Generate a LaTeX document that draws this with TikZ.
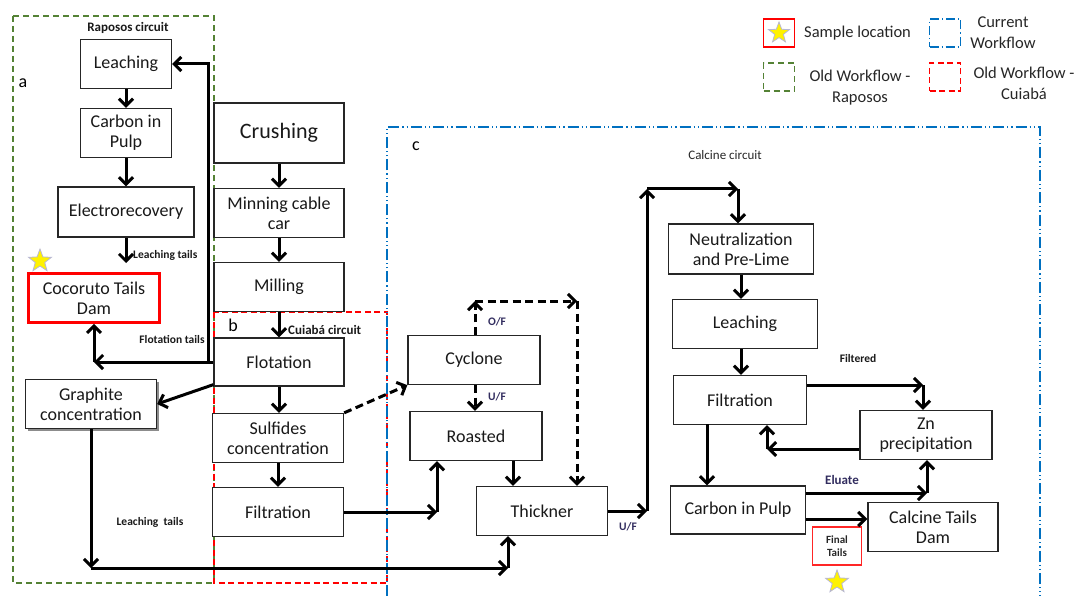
\documentclass[tikz,border=0pt]{standalone}
\usepackage{fontspec}
\setmainfont{Carlito}
\usetikzlibrary{arrows.meta,shapes.geometric,shadows,calc}
\definecolor{oldgreen}{RGB}{84,130,53}
\definecolor{curblue}{RGB}{0,112,192}
\definecolor{flowlbl}{RGB}{50,45,95}
\tikzset{
  box/.style={draw=black!85, line width=1.3pt, fill=white, align=center, inner sep=1pt, text=black!90,
    font=\fontsize{18}{20}\selectfont},
  arr/.style={line width=3pt, -{Straight Barb[length=7pt,width=14pt]}},
  darr/.style={line width=3pt, dash pattern=on 8pt off 4.5pt, -{Straight Barb[length=7pt,width=14pt]}},
  lbl/.style={font=\bfseries\fontsize{11.5}{13}\selectfont, inner sep=0pt, text=black!90},
  sttl/.style={font=\bfseries\fontsize{13}{15}\selectfont, inner sep=0pt, text=black!90},
  leg/.style={font=\fontsize{16.5}{21}\selectfont, align=center, inner sep=0pt, text=black!85},
  greenbox/.style={draw=oldgreen, line width=1.4pt, dash pattern=on 6pt off 4pt},
  redbox/.style={draw=red, line width=1.3pt, dash pattern=on 6pt off 3.5pt},
  bluebox/.style={draw=curblue, line width=1.4pt, dash pattern=on 11pt off 3pt on 1.2pt off 3pt on 1.2pt off 3pt},
  starmark/.style={star, star points=5, star point ratio=2.4, minimum size=24pt, inner sep=0pt,
    fill=yellow, draw=blue!25!gray!45, line width=0.8pt},
}
\begin{document}
\begin{tikzpicture}[x=1pt,y=-1pt]
\useasboundingbox (0,0) rectangle (1078,596);
% ---- circuit frames
\draw[greenbox] (13,16) rectangle (214,583);
\draw[redbox] (214,312) rectangle (387,583);
\draw[bluebox] (387,596) -- (387,127) -- (1040,127) -- (1040,596);
\node[font=\fontsize{18}{20}\selectfont, inner sep=0pt] (la) at (23,83) {a};
\node[font=\fontsize{18}{20}\selectfont, inner sep=0pt] (lb) at (233,325) {b};
\node[font=\fontsize{18}{20}\selectfont, inner sep=0pt] (lc) at (416,146) {c};
\node[sttl] (tra) at (128,28) {Raposos circuit};
\node[sttl, anchor=west] (trb) at (288,330) {Cuiabá circuit};
\node[font=\fontsize{13}{15}\selectfont, inner sep=0pt, text=black!85] (trc) at (725,155) {Calcine circuit};
% ---- Raposos circuit
\node[box, minimum width=91pt, minimum height=49pt] (leachA) at (126,64) {Leaching};
\node[box, minimum width=91pt, minimum height=49pt] (cipA) at (126,133) {Carbon in\\Pulp};
\node[box, minimum width=136pt, minimum height=50pt] (elec) at (126,212) {Electrorecovery};
\node[box, draw=red, line width=2.6pt, minimum width=131pt, minimum height=49pt] (coco) at (94,298) {Cocoruto Tails\\Dam};
\node[starmark] (starA) at (40,261) {};
\node[box, minimum width=131pt, minimum height=49pt, drop shadow={shadow xshift=2.5pt, shadow yshift=-2.5pt, fill=black!45, opacity=1}] (graph) at (91,404) {Graphite\\concentration};
% ---- main line
\node[box, minimum width=130pt, minimum height=60pt, font=\fontsize{22}{24}\selectfont] (crush) at (279,133) {Crushing};
\node[box, minimum width=130pt, minimum height=49pt] (cable) at (279,213) {Minning cable\\car};
\node[box, minimum width=130pt, minimum height=49pt] (mill) at (279,287) {Milling};
\node[box, minimum width=130pt, minimum height=48pt] (flot) at (279,362) {Flotation};
\node[box, minimum width=131pt, minimum height=49pt] (sulf) at (278,438) {Sulfides\\concentration};
\node[box, minimum width=131pt, minimum height=49pt] (filtB) at (278,512) {Filtration};
% ---- calcine circuit
\node[box, minimum width=132pt, minimum height=49pt] (cyc) at (474,360) {Cyclone};
\node[box, minimum width=132pt, minimum height=49pt] (roast) at (476,436) {Roasted};
\node[box, minimum width=131pt, minimum height=49pt] (thick) at (542,511) {Thickner};
\node[box, minimum width=145pt, minimum height=50pt] (neut) at (741,249) {Neutralization\\and Pre-Lime};
\node[box, minimum width=145pt, minimum height=49pt] (leachC) at (745,324) {Leaching};
\node[box, minimum width=133pt, minimum height=49pt] (filtC) at (740,400) {Filtration};
\node[box, minimum width=132pt, minimum height=49pt] (zn) at (926,435) {Zn\\precipitation};
\node[box, minimum width=135pt, minimum height=48pt] (cipC) at (738,510) {Carbon in Pulp};
\node[box, minimum width=130pt, minimum height=49pt] (calc) at (933,527) {Calcine Tails\\Dam};
\node[draw=red!85, line width=1.1pt, minimum width=49pt, minimum height=38pt, align=center, inner sep=0pt,
  font=\bfseries\fontsize{11}{13}\selectfont, text=black!85] (final) at (837,546) {Final\\Tails};
\node[starmark] (starC) at (837,582) {};
% ---- Raposos arrows
\draw[arr] (leachA.south) -- (cipA.north);
\draw[arr] (cipA.south) -- (cipA.south |- elec.north);
\coordinate (lt) at (126,263);
\draw[arr] (elec.south) -- (lt);
\node[lbl, anchor=west] (ltl) at (133,255) {Leaching tails};
\coordinate (ft) at (coco.south |- flot.west);
\coordinate (vt) at (208,362);
\draw[arr] (flot.west) -- (ft);
\draw[arr] (ft) -- (coco.south);
\draw[arr] (vt) |- (leachA.east);
\node[lbl] (ftl) at (172,339) {Flotation tails};
\draw[arr] ([yshift=2pt]flot.south west) -- (graph.east);
% ---- main line arrows
\draw[arr] (crush.south) -- (cable.north);
\draw[arr] (cable.south) -- (mill.north);
\draw[arr] (mill.south) -- (flot.north);
\draw[arr] (flot.south) -- (flot.south |- sulf.north);
\draw[arr] (sulf.south) -- (filtB.north);
% ---- graphite to thickner
\coordinate (g1) at (graph.south |- 0,568);
\coordinate (g2) at (508,568);
\draw[arr] (graph.south) -- (g1);
\draw[arr] (g1) -- (g2);
\draw[arr] (g2) -- (g2 |- thick.south);
\node[lbl] (ltl2) at (150,522) {Leaching\ \ tails};
% ---- filtration b to roasted
\coordinate (f1) at (437,512);
\draw[arr] (filtB.east) -- (f1);
\draw[arr] (f1) -- (f1 |- roast.south);
% ---- sulfides to cyclone (dashed)
\draw[darr] (sulf.north east) -- (cyc.south west);
\coordinate (o1) at (475,301);
\coordinate (o2) at (577,301);
\draw[darr] (o1 |- cyc.north) -- (o1);
\draw[darr] (o1) -- (o2);
\draw[darr] (o2) -- (o2 |- thick.north);
\node[lbl, text=flowlbl] (ofl) at (497,322) {O/F};
\draw[darr] (o1 |- cyc.south) -- (o1 |- roast.north);
\node[lbl, text=flowlbl] (ufl) at (497,397) {U/F};
\coordinate (r1) at (513,460);
\draw[arr] (r1 |- roast.south) -- (r1 |- thick.north);
% ---- thickner to neutralization
\coordinate (t1) at (647,511);
\coordinate (t2) at (647,189);
\coordinate (t3) at (738,189);
\draw[arr] (thick.east) -- (t1);
\draw[arr] (t1) -- (t2);
\draw[arr] (t2) -- (t3);
\draw[arr] (t3) -- (t3 |- neut.north);
\node[lbl, text=flowlbl] (ufl2) at (628,527) {U/F};
% ---- calcine circuit arrows
\draw[arr] (neut.south) -- (neut.south |- leachC.north);
\draw[arr] (neut.south |- leachC.south) -- (neut.south |- filtC.north);
\coordinate (z1) at (923,385);
\draw[arr] (filtC.east |- z1) -- (z1);
\draw[arr] (z1) -- (z1 |- zn.north);
\node[lbl] (fil) at (858,359) {Filtered};
\coordinate (z2) at (767,449);
\draw[arr] (zn.west |- z2) -- (z2);
\draw[arr] (z2) -- (z2 |- filtC.south);
\coordinate (c0) at (707,424);
\draw[arr] (c0) -- (c0 |- cipC.north);
\coordinate (e1) at (927,493);
\draw[arr] (cipC.east |- e1) -- (e1);
\draw[arr] (e1) -- (e1 |- zn.south);
\node[lbl, font=\bfseries\fontsize{13}{15}\selectfont, text=flowlbl] (elu) at (842,480) {Eluate};
\coordinate (e2) at (806,519);
\draw[arr] (e2) -- (e2 -| calc.west);
% ---- legend
\node[draw=red, line width=1.8pt, minimum width=31pt, minimum height=28pt, inner sep=0pt] (lg1) at (779,33) {};
\node[starmark, minimum size=22pt] (lgs) at (lg1) {};
\node[leg, anchor=west] (lg1t) at (804,33) {Sample location};
\node[draw=curblue, line width=1.4pt, dash pattern=on 9pt off 3pt on 1.2pt off 3pt, minimum width=31pt, minimum height=28pt, inner sep=0pt] (lg2) at (945,33) {};
\node[leg] (lg2t) at (1003,33) {Current\\Workflow};
\node[greenbox, minimum width=31pt, minimum height=28pt, inner sep=0pt] (lg3) at (779,77) {};
\node[leg] (lg3t) at (860,88) {Old Workflow -\\Raposos};
\node[redbox, minimum width=31pt, minimum height=28pt, inner sep=0pt] (lg4) at (945,77) {};
\node[leg] (lg4t) at (1024,83) {Old Workflow -\\Cuiabá};
\end{tikzpicture}
\end{document}
